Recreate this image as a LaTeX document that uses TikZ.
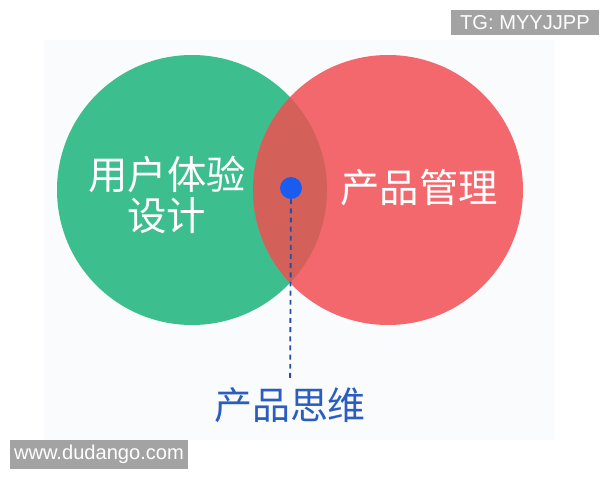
\documentclass[tikz,border=0pt]{standalone}
\usepackage{fontspec}
\setmainfont{Liberation Sans}
\newfontfamily\cjk{Noto Sans CJK SC}
\usetikzlibrary{positioning}
\definecolor{UXgreen}{RGB}{60, 190, 142}
\definecolor{PMred}{RGB}{243, 104, 108}
\definecolor{LensRed}{RGB}{212, 96, 90}
\definecolor{DotBlue}{RGB}{26, 92, 240}
\definecolor{LabelBlue}{RGB}{43, 93, 192}
\definecolor{MarkGray}{RGB}{163, 163, 163}
\definecolor{PaperGray}{RGB}{250, 251, 253}

\begin{document}
\begin{tikzpicture}[x=0.025cm, y=-0.025cm,
    biglabel/.style={text=white, font=\cjk\fontsize{28}{29}\selectfont, align=center},
    watermark/.style={fill=MarkGray, text=white, font=\fontsize{14.3}{16}\selectfont, inner sep=0pt}]
    \useasboundingbox (0,0) rectangle (600,480);
    \fill[PaperGray] (44,40) rectangle (555,440);

    % Two circles
    \fill[UXgreen] (192,190) circle (135);
    \fill[PMred] (388,190) circle (135);

    % Overlap
    \begin{scope}
        \clip (192,190) circle (135);
        \fill[LensRed] (388,190) circle (135);
    \end{scope}

    % Labels
    \node[biglabel] (ux) at (167,195) {用户体验\\设计};
    \node[biglabel] (pm) at (419,188) {产品管理};

    % Core point and its name
    \node[circle, fill=DotBlue, minimum size=15.6pt, inner sep=0pt] (core) at (291,188) {};
    \node[text=LabelBlue, font=\cjk\fontsize{27}{30}\selectfont, inner sep=6pt] (think) at (290,405) {产品思维};
    \draw[LabelBlue!85!black, line width=1.3pt, dash pattern=on 3.5pt off 3pt] (core) -- (think);

    % Watermarks
    \node[watermark, minimum width=105pt, minimum height=17.7pt] (tg) at (525,22.5) {TG: MYYJJPP};
    \node[watermark, minimum width=126pt, minimum height=20.6pt] (site) at (99,454.5) {www.dudango.com};
\end{tikzpicture}
\end{document}
